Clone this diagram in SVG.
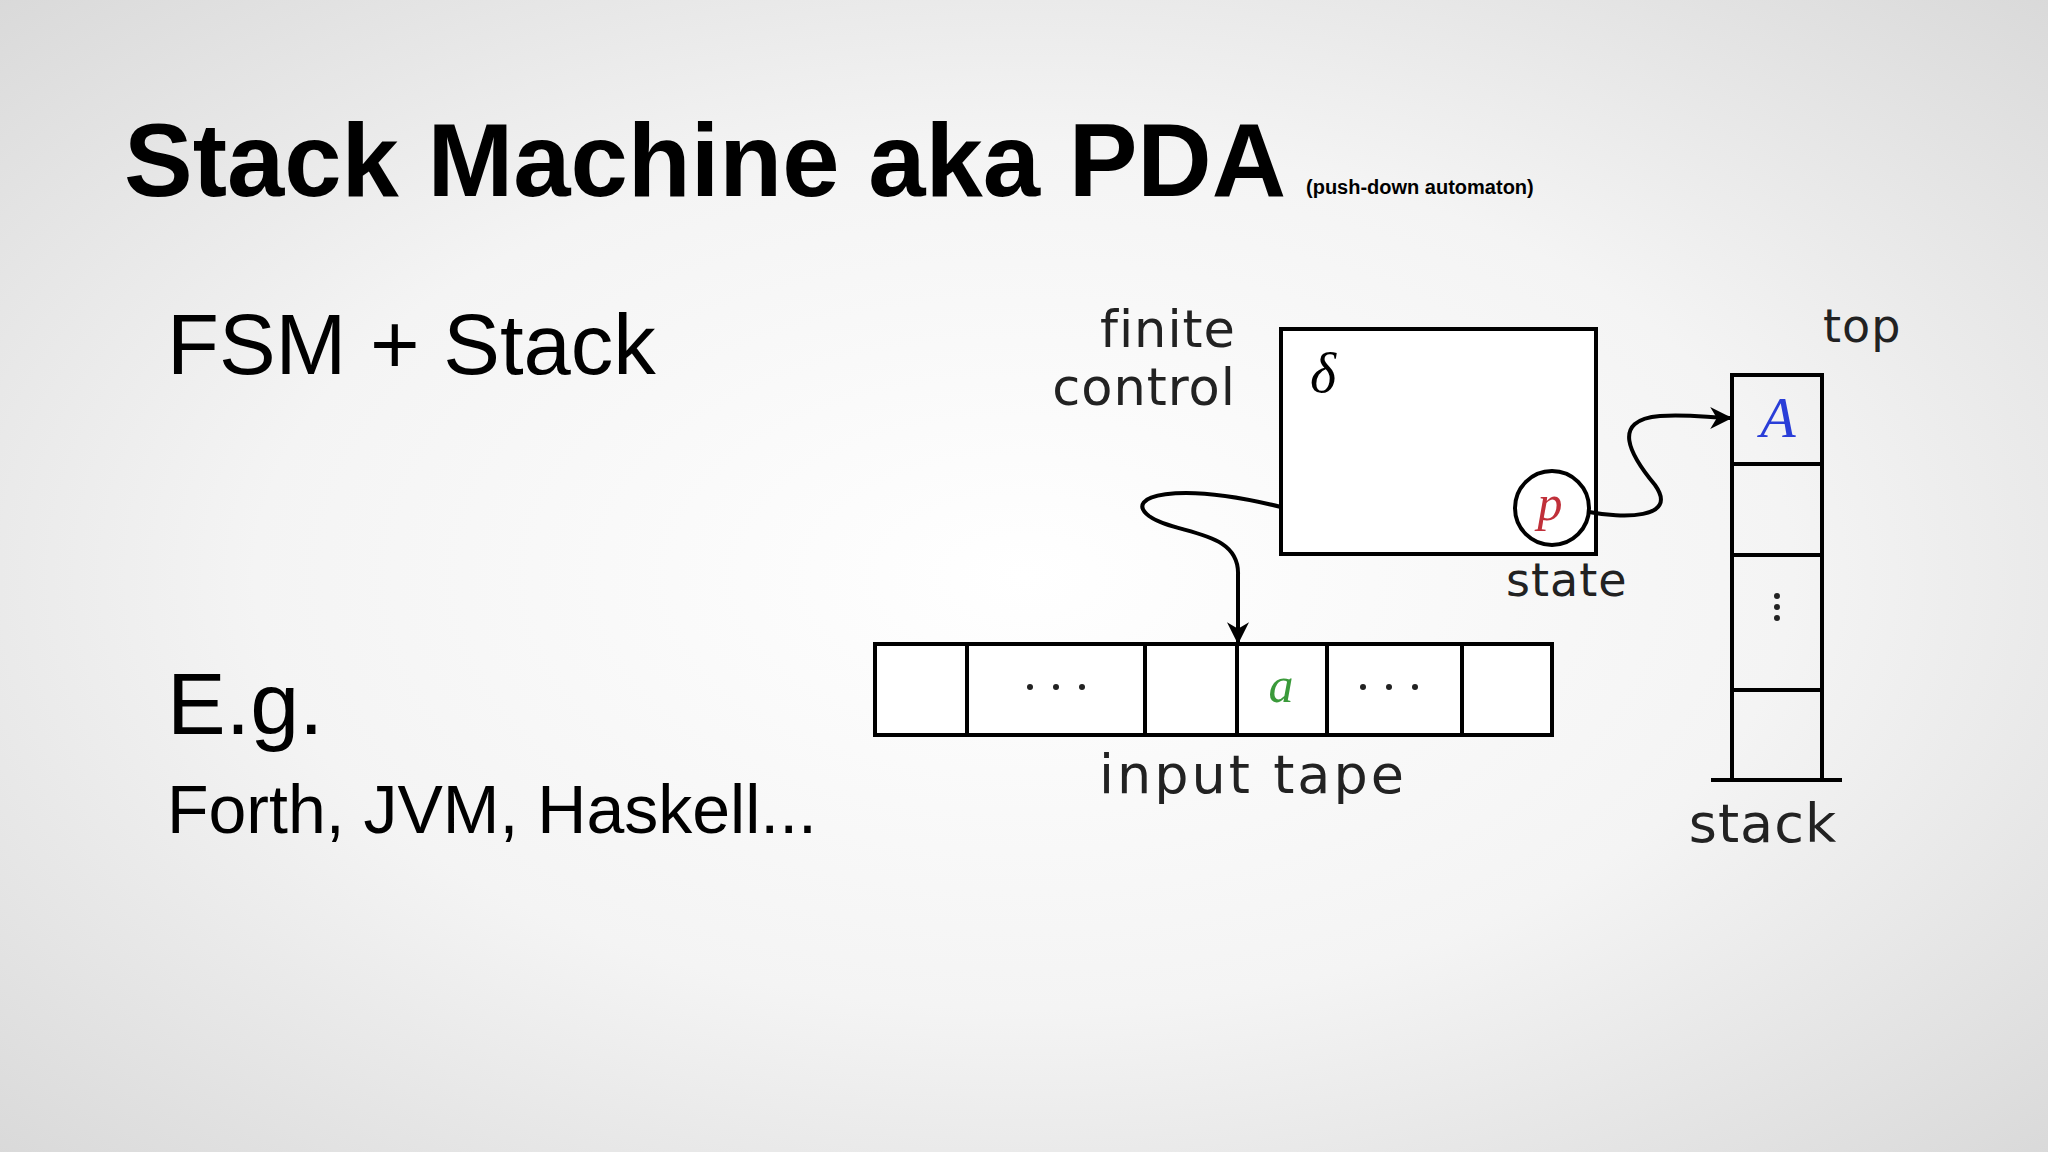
<svg xmlns="http://www.w3.org/2000/svg" width="2048" height="1152" viewBox="0 0 2048 1152">
<defs>
<radialGradient id="bg" cx="0.5" cy="0.5" r="0.75">
<stop offset="0" stop-color="#ffffff"/><stop offset="0.5" stop-color="#f4f4f4"/><stop offset="1" stop-color="#d6d6d6"/>
</radialGradient>
<marker id="ah" viewBox="0 0 10 10" refX="9" refY="5" markerWidth="26" markerHeight="22" markerUnits="userSpaceOnUse" orient="auto"><path d="M0,0 L10,5 L0,10 L3,5 Z" fill="#000"/></marker>
<style>
.s{font-family:"Liberation Sans",Arial,sans-serif;fill:#000}
.d{font-family:"DejaVu Sans",sans-serif;fill:#222}
.m{font-family:"Liberation Serif",serif;font-style:italic}
.box{fill:#fff;stroke:#000;stroke-width:4}
.ln{fill:none;stroke:#000;stroke-width:4}
.dot{fill:#222}
</style>
</defs>
<rect width="2048" height="1152" fill="url(#bg)"/>
<text class="s" x="124" y="196" font-size="103" font-weight="bold">Stack Machine aka PDA</text>
<text class="s" x="1306" y="194" font-size="20" font-weight="bold">(push-down automaton)</text>
<text class="s" x="167" y="374" font-size="85">FSM + Stack</text>
<text class="s" x="167" y="734" font-size="88">E.g.</text>
<text class="s" x="167" y="833" font-size="68">Forth, JVM, Haskell...</text>
<g id="control">
<rect class="box" x="1281" y="329" width="315" height="225"/>
<text class="m" x="1310" y="392" font-size="56">δ</text>
<text class="d" x="1236" y="347" font-size="51" text-anchor="end" letter-spacing="1">finite</text>
<text class="d" x="1236" y="405" font-size="51" text-anchor="end" letter-spacing="1">control</text>
</g>
<g id="state">
<circle cx="1552" cy="508" r="37" fill="#fff" stroke="#000" stroke-width="4"/>
<text class="m" x="1550" y="520" font-size="50" fill="#c0303a" text-anchor="middle">p</text>
<text class="d" x="1506" y="596" font-size="46" letter-spacing="1">state</text>
</g>
<g id="tape">
<rect class="box" x="875" y="644" width="677" height="91"/>
<path class="ln" d="M967,644V735M1145,644V735M1237,644V735M1327,644V735M1462,644V735"/>
<circle class="dot" cx="1030" cy="687" r="3"/><circle class="dot" cx="1056" cy="687" r="3"/><circle class="dot" cx="1082" cy="687" r="3"/>
<circle class="dot" cx="1363" cy="687" r="3"/><circle class="dot" cx="1389" cy="687" r="3"/><circle class="dot" cx="1415" cy="687" r="3"/>
<text class="m" x="1281" y="702" font-size="50" fill="#3a9a3a" text-anchor="middle">a</text>
<text class="d" x="1253" y="793" font-size="54" text-anchor="middle" letter-spacing="3">input tape</text>
</g>
<g id="stack">
<rect x="1732" y="375" width="90" height="405" fill="none" stroke="#000" stroke-width="4"/>
<path class="ln" d="M1732,464H1822M1732,555H1822M1732,690H1822M1711,780H1842"/>
<text class="m" x="1778" y="437" font-size="58" fill="#2a3ed8" text-anchor="middle">A</text>
<circle class="dot" cx="1777" cy="596" r="3"/>
<circle class="dot" cx="1777" cy="607" r="3"/>
<circle class="dot" cx="1777" cy="618" r="3"/>
<text class="d" x="1823" y="342" font-size="46" letter-spacing="1">top</text>
<text class="d" x="1763" y="842" font-size="54" text-anchor="middle" letter-spacing="1">stack</text>
</g>
<g id="connectors">
<path class="ln" marker-end="url(#ah)" d="M1281,507 C1175,481 1123,496 1149,516 C1175,535 1240,529 1238,575 L1238,642"/>
<path class="ln" marker-end="url(#ah)" d="M1589,512 C1620,518 1680,520 1655,485 C1630,455 1610,420 1660,416 C1690,414 1710,418 1730,418"/>
</g>
</svg>
